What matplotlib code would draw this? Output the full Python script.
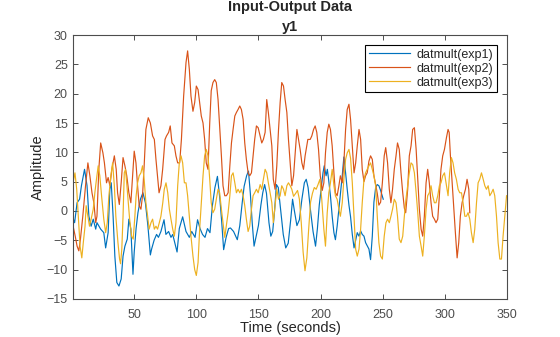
import numpy as np
import matplotlib
matplotlib.use("Agg")
import matplotlib.pyplot as plt

plt.rcParams['font.family'] = ['Liberation Sans', 'DejaVu Sans']

exp1 = [(1, -1.4), (2, -2), (4, 1.4), (6, 2), (7.5, 4.3), (10, 7.1), (12, 4.3), (13.5, -0.9),
        (15.3, -2.6), (17, -1.4), (19, -3.1), (20, -2), (23, -3.1), (25.5, -3.7), (27, -6.3),
        (29, -3.7), (30.4, 3.7), (31.5, 4.8), (33, -0.9), (34.4, -7.7), (36, -12.2), (37.7, -12.8),
        (39.5, -11.6), (41, -7.7), (42.5, -6), (44.4, -4.8), (45.7, -1.4), (47.3, -3.1), (49, -10.8),
        (50, -7), (51.5, -3), (53, -0.3), (55, 2), (57, 3.1), (59, 1.4), (61, -2.5), (63, -7.5),
        (64, -6.5), (66, -5), (68, -4), (69.5, -4.5), (71.5, -3.5), (74, -1.5), (75.5, -4),
        (77.7, -3.5), (79.6, -4.5), (81, -4), (84.5, -7), (86.3, -3), (89, -1), (91.7, -3.5),
        (94.4, -4.5), (96.3, -3.5), (99, -4.5), (101, -1.5), (103, -3), (105, -4), (107, -4.5),
        (109, -3), (111, -3.7), (113, 1), (115, 4), (117, 5.9), (119, 2), (120.5, -2), (122, -6.6),
        (124, -4.5), (126, -3), (127.5, -2.9), (130, -3.5), (133, -4.9), (135, -2.5), (137, 1.5),
        (138.5, 4.2), (140.5, 6), (142, 6.8), (143.5, 3), (145, -2), (146.5, -6), (148, -4.5),
        (150, -2.5), (152, 1), (153.5, 3.1), (155, 4.5), (156.5, 3), (158.5, -2), (160, -4.3),
        (161.5, -3.5), (163, 0), (164.5, 4.5), (166, 4), (168, 0), (170, -4), (172, -6.3),
        (174, -5.5), (176, -1.5), (177.5, 2), (179, 0), (181, -2.5), (183, -1.5), (185, 2),
        (187, 4.8), (188.5, 5.4), (190, 4), (192, 0), (194, -3.5), (196, -6), (197.5, -3), (199, 1),
        (200.5, 3.7), (202, 6.5), (203, 7.7), (204.5, 6), (205.5, 7.1), (206.5, 5.4), (208, 2.6),
        (209.4, -0.9), (210.8, -3.7), (212, -4.9), (213.4, -2.6), (214.8, 0.3), (216, 2.6),
        (217.5, 6), (218.8, 9.2), (220.2, 6.5), (221.5, 3.7), (222.9, 1), (224.2, -1), (225.6, -4),
        (227, -6.3), (228.3, -5), (229.6, -3.7), (231, -4.3), (232.3, -3.4), (233.6, -4), (235, -4.3),
        (236.3, -5.4), (237.8, -6), (239, -6.5), (240.3, -8.3), (241.7, -4.3), (243, 1.5),
        (244.4, 4), (245.7, 4.5), (247, 4.3), (248.4, 3.5), (249.8, 2.5), (250.5, 2)]

exp2 = [(1, -2.8), (2.5, -4.3), (4, -6), (5.4, -6.8), (6.7, -4.8), (8.6, -0.9), (10.8, 4.3),
        (12.7, 8.2), (14.3, 6), (16, 3.1), (17.5, 1.4), (19, -2), (20, -0.9), (21.5, 7.1), (23, 11.6),
        (24.8, 9.9), (26, 8.2), (27.7, 4.8), (29, 5.7), (30.4, 4.3), (32, 7.1), (34, 9.4), (35.5, 7.1),
        (36.6, 3.1), (38, 1.1), (39.5, 4.8), (41, 9.1), (42.5, 7.7), (44, 6), (45.7, 3.1), (47.3, 1.4),
        (48.7, 6), (50, 10.2), (51.4, 8.2), (52.7, 4.3), (54, 0.9), (55.4, 0.3), (56.7, 2.6),
        (58, 7.7), (59.4, 13.9), (61.3, 15.9), (63, 15), (64.8, 12.8), (66.2, 12.2), (67.5, 8.8),
        (69, 5.4), (70, 3.1), (71.5, 4.3), (72.9, 7.1), (74.8, 12.2), (76, 12.8), (77.7, 13.4),
        (79, 14.5), (80.4, 11.6), (82.3, 11.1), (83.6, 9.4), (85, 8.2), (86.6, 8.2), (88, 12.2),
        (89.8, 19.6), (91.7, 25.3), (93, 27.3), (94.4, 24.1), (95.7, 19.6), (97.3, 17), (98.7, 18.5),
        (100, 21.3), (101.4, 20.7), (102.7, 18.5), (104, 16.2), (105.4, 15), (106.7, 12.2), (108, 8.2),
        (109.4, 7.1), (110.8, 15), (112, 20.5), (113.4, 21.9), (114.8, 22.4), (116.1, 21.9),
        (117.5, 19), (118.8, 14.5), (120.2, 9.4), (121.5, 4.3), (122.9, 2.6), (124.2, 2.6),
        (125.6, 3.1), (127, 7.7), (128.3, 11.6), (129.6, 13.9), (131, 16.2), (132.3, 16.8),
        (133.6, 17.3), (135, 17.9), (136.3, 17.3), (137.7, 15.6), (139, 11.6), (140.3, 8.8),
        (141.7, 6.5), (143, 6), (144.4, 6.5), (145.7, 9.4), (147, 12.2), (148.4, 14.5), (149.8, 14.2),
        (151.4, 12.8), (152.7, 11.6), (154, 12.2), (155.4, 13.4), (156.7, 19), (158, 16.8),
        (159.4, 13.9), (160.8, 11.1), (162, 5.4), (163.4, 3.7), (164.8, 7.7), (166.2, 13.9),
        (167.5, 18.5), (168.8, 21.9), (170.2, 21.3), (171.5, 19), (172.9, 16.8), (174.2, 12.2),
        (175.6, 8.2), (176.9, 4.3), (178.3, 6), (179.6, 9.9), (181, 13.9), (182.3, 12.2), (183.6, 10.5),
        (185, 8.2), (186.3, 7.1), (187.6, 9.4), (189.8, 12.2), (191.7, 12.2), (193, 12.8),
        (194.4, 13.9), (195.7, 14.5), (197, 13.4), (198.4, 10.5), (199.8, 6), (201.4, 3.5),
        (202.7, 4.8), (204, 9.9), (205.4, 13.4), (206.7, 14.8), (208, 13.9), (209.4, 11.1),
        (210.8, 6.5), (212, 3.1), (213.4, 2.6), (214.8, 4.3), (216, 6), (217.5, 4.8), (218.8, 8.2),
        (220.2, 13.9), (221.5, 17.3), (222.9, 18.2), (224.2, 15.6), (225.6, 11.1), (227, 6.5),
        (228.3, 8.2), (229.6, 11.1), (231, 13.9), (232.3, 12.2), (233.6, 7.1), (235, 5), (236.3, 6),
        (237.6, 6.5), (239, 8.5), (240.3, 9.4), (241.7, 8.8), (243, 6), (244.4, 4.5), (245.7, 3),
        (247, 1), (248.4, 1.5), (249.8, 4.8), (251.3, 9.4), (252.5, 10.8), (254, 8.2), (255.4, 3.7),
        (256.7, 1.4), (258, 3.7), (259.4, 7.1), (260.8, 9.4), (262, 11.6), (263.4, 10.5), (264.8, 6.5),
        (266.2, 3.1), (267.5, 0.5), (268.6, -0.3), (270.2, 3.7), (271.5, 9.4), (272.9, 11.1),
        (274.2, 13.9), (275.6, 14.2), (277, 10.5), (278.3, 5.4), (279.6, 0.3), (281, -3.1),
        (282.3, -4.3), (283.6, -0.9), (285, 4.8), (286.3, 7.1), (287.6, 4.8), (289, 1.4), (290.3, -0.9),
        (291.7, -1.4), (293, -2), (294.4, -1.4), (295.7, 2.6), (297, 7.1), (298.4, 9.4), (299.8, 10.5),
        (301.4, 12.5), (302.7, 13.9), (303.6, 13.4), (304.6, 9.4), (306, 4.8), (307.3, 0.3),
        (308.6, -3.7), (310, -8), (311.3, -5.4), (312.6, -0.9), (314, 1.4), (315.3, 2.6), (316.7, 3.7),
        (318, 5.4), (319.4, 3.7), (320.2, -0.3)]

exp3 = [(1, 5.1), (2.3, 6.5), (3.7, 3.7), (5, -0.9), (6.4, -6), (7.8, -8), (9, -5.4), (10.4, -2.6),
        (11.3, 0.9), (12.7, -0.9), (14, -2.6), (15.3, -1.4), (17, 0.3), (18.3, 3.1), (19.6, 5.4),
        (21, 7.7), (22.3, 6), (23.7, 2.6), (25.5, -1.4), (27, -3.7), (28.3, -2), (29.6, 2.6), (31.2, 6),
        (32.6, 8.2), (34, 4.3), (35.2, -0.9), (36.9, -5.4), (38.2, -8.2), (39, -9), (40, -6.5),
        (41, -0.9), (42, 6.5), (43, 7.1), (44.6, 3.1), (46.3, -1.4), (47.9, -4.3), (49.2, -4.8),
        (50.5, -1), (51.5, 2.5), (52.7, 4.8), (54, 6), (55.4, 6.5), (56.7, 7.7), (58, 5.4), (59.4, 1.4),
        (60.8, -0.9), (62, -3.1), (63.5, -2), (64.8, -1.4), (66.2, -3.1), (67.5, -2.6), (68.8, -3.1),
        (70.2, -2), (71.5, -0.9), (73, 1.4), (74.2, 3.7), (75.6, 4.8), (77, 3.1), (78.3, 0.3),
        (79.6, -1.4), (81, -3.1), (82.3, -4.3), (83.6, -2), (85, 4.3), (86.3, 8.2), (87.7, 9.4),
        (89, 8.2), (90.4, 4.8), (91.7, 4.8), (93, 2.6), (94.4, -0.9), (95.7, -4.3), (97.3, -7.7),
        (98.7, -10), (100, -11), (101.4, -8.8), (102.7, -3.1), (104, 1.4), (105.4, 6), (106.7, 9.4),
        (108, 10.5), (109.4, 9.4), (110.8, 5.4), (112, 1.4), (113.4, -0.3), (114.8, 0.3), (116.1, 2),
        (117.5, 3.7), (118.8, 3.1), (120.2, 0.3), (121.5, -2), (122.9, -4.5), (124.2, -2.5),
        (125.6, -0.3), (127, 2.6), (128.3, 6), (129.6, 6.5), (131, 4.8), (132.3, 3.1), (133.6, 3.7),
        (135, 3.1), (136.3, 3.7), (137.7, 2.6), (139, 0.9), (140.3, -1.4), (141.7, -3.5), (143, -2.6),
        (144.4, 0.3), (145.7, 2.6), (147, 3.1), (148.4, 3.7), (149.8, 3.1), (151.4, 4.5), (152.7, 3.7),
        (154, 5.4), (155.4, 7.1), (156.7, 6.5), (158, 4.8), (159.4, 3.1), (160.8, 1.4), (162, -2),
        (163.4, 0.9), (164.8, 3.7), (166.2, 2), (167.5, 2.6), (168.8, 4.3), (170.2, 3.7), (171.5, 2.6),
        (172.9, 4.3), (174.2, 4.8), (175.6, 4.3), (176.9, 3.7), (178.3, 2.5), (180, 3), (181.5, 3.5),
        (183, 2), (184.5, -2), (186, -7), (187.5, -10.2), (189, -8), (190.5, -3), (192, 1.5),
        (193.5, 3), (195, 4), (196.5, 3.7), (198, 4.5), (199.5, 5.4), (201, 2), (202.7, -3.1),
        (204, -6), (205.4, -0.3), (206.7, 3.1), (208, 4.8), (209.4, 7.1), (210.8, 4.3), (212, 2.6),
        (213.4, 2), (214.8, 0.3), (216, -0.9), (217.5, 1.4), (218.8, 5.4), (220.2, 8.8), (221.5, 9.9),
        (222.9, 10.5), (224.2, 9), (225.6, 4.8), (227, -0.9), (228.3, -6.5), (229.6, -7.7),
        (231, -6.5), (232.3, -3.1), (233.6, 1.4), (235, 5.4), (236.3, 6.5), (237.6, 7.1), (239, 7.7),
        (240.3, 8.2), (241.7, 7.1), (243, 6), (244.4, 4.3), (245.7, -0.9), (247, -5.4), (248.4, -7.7),
        (249.8, -8.2), (251.3, -4.3), (252.7, -2), (254, -1.4), (255.4, -2), (256.7, -0.9),
        (258, 0.3), (259.4, 2), (260.8, 1.4), (262, -0.9), (263.4, -4.8), (264.8, -5.4), (266.2, -4.3),
        (267.5, -0.9), (268.8, 2), (270.2, 4.3), (271.5, 6.5), (272.9, 8.2), (274.2, 7.9), (275.6, 6.5),
        (277, 3.1), (278.3, -0.3), (279.6, -4.3), (281, -6), (282.3, -7.7), (283.6, -4.3), (285, 0.3),
        (286.3, 2.6), (287.6, 3.1), (289, 4.3), (290.3, 2.6), (291.7, 1.4), (293, 1.4), (294.4, 2.6),
        (295.7, 4.3), (297, 4.8), (298.4, 6), (299.8, 6.5), (301.4, 4.3), (302.7, 2.6), (304, 6.5),
        (305.4, 9.1), (306.7, 8.2), (308, 6.5), (309.4, 5.4), (310.8, 3.7), (312.1, 3.1), (313.5, 3.1),
        (314.8, 1.4), (316.2, -0.9), (317.5, -0.9), (318.8, -0.3), (320.2, -1.4), (321.5, -3.7),
        (322.9, -5.4), (324.2, -3.1), (325.6, 1.4), (326.9, 4.8), (328.2, 5.4), (329.6, 6.5),
        (331, 5.4), (332.3, 4.3), (333.6, 3.7), (335, 4.3), (336.3, 2.6), (337.7, 3.1), (339, 3.7),
        (340.3, 2.6), (341.7, -0.9), (343, -5.4), (344.4, -8.2), (345.7, -8.2), (347, -4.3),
        (348.4, -0.9), (349.8, 2.6)]

labels = ['datmult(exp1)', 'datmult(exp2)', 'datmult(exp3)']
colors = ['#0072BD', '#D95319', '#EDB120']

fig = plt.figure(figsize=(5.6, 3.37), dpi=100)
ax = fig.add_axes([0.131, 0.113, 0.774, 0.783])

for data, lab, col in zip([exp1, exp2, exp3], labels, colors):
    t, y = np.array(data).T
    ax.plot(t, y, color=col, lw=0.85, label=lab)

ax.set_xlim(1, 350)
ax.set_ylim(-15, 30)
ax.set_xticks(np.arange(50, 351, 50))
ax.set_yticks(np.arange(-15, 31, 5))

axis_col = '#4d4d4d'
for s in ax.spines.values():
    s.set_color(axis_col)
    s.set_linewidth(0.8)
ax.tick_params(direction='in', top=True, right=True, length=3.5, width=0.7,
               colors=axis_col, labelsize=9)
ax.tick_params(axis='x', pad=7)
ax.tick_params(axis='y', pad=4)

ax.set_xlabel('Time (seconds)', fontsize=10.5, color='#262626', labelpad=0)
ax.set_ylabel('Amplitude', fontsize=10.5, color='#262626', labelpad=1)
ax.set_title('Input-Output Data\ny1', fontsize=10.5, fontweight='bold',
             color='#262626', pad=3, linespacing=1.55)

leg = ax.legend(loc='upper right', fontsize=9, frameon=True, fancybox=False,
                edgecolor='black', framealpha=1, borderpad=0.3, labelspacing=0.15,
                handlelength=3.3, handletextpad=0.5, borderaxespad=0.8)
leg.get_frame().set_linewidth(0.8)
for txt in leg.get_texts():
    txt.set_color('#262626')

fig.savefig('out.png', dpi=100)
